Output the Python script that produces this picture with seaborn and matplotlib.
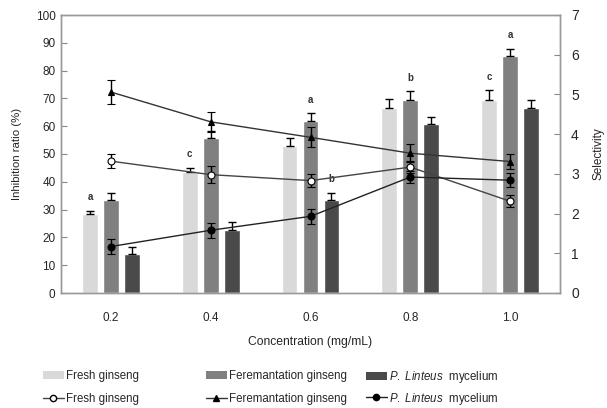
import numpy as np
import pandas as pd
import seaborn as sns
import matplotlib.pyplot as plt
from matplotlib.patches import Patch
from matplotlib.lines import Line2D

# data
conc = ["0.2", "0.4", "0.6", "0.8", "1.0"]
groups = ["Fresh ginseng", "Feremantation ginseng", "P. Linteus mycelium"]

inhib_fresh = [28.4, 43.4, 52.9, 66.7, 69.4]
inhib_ferm = [33.3, 55.9, 61.8, 69.4, 85.3]
inhib_pl = [14.0, 22.5, 33.6, 60.7, 66.7]
inhib_err_fresh = [1.2, 1.7, 2.7, 3.1, 3.5]
inhib_err_ferm = [2.8, 2.5, 2.8, 3.1, 2.6]
inhib_err_pl = [2.7, 2.9, 2.5, 2.7, 2.7]

sel_fresh = [3.32, 2.98, 2.83, 3.17, 2.31]
sel_ferm = [5.06, 4.31, 3.92, 3.52, 3.31]
sel_pl = [1.17, 1.58, 1.93, 2.92, 2.84]
sel_err_fresh = [0.18, 0.21, 0.17, 0.15, 0.15]
sel_err_ferm = [0.30, 0.25, 0.25, 0.22, 0.18]
sel_err_pl = [0.19, 0.19, 0.19, 0.16, 0.18]

# significance letters: (group index, concentration index, letter)
letters = [(0, 0, "a"), (0, 1, "c"), (1, 2, "a"), (2, 2, "b"),
           (1, 3, "b"), (0, 4, "c"), (1, 4, "a")]

bar_colors = ["#d9d9d9", "#808080", "#4a4a4a"]

sns.set_style("white")
plt.rcParams['font.family'] = ['Liberation Sans', 'DejaVu Sans']
plt.rcParams['mathtext.fontset'] = 'custom'
plt.rcParams['mathtext.it'] = 'Liberation Sans:italic'
plt.rcParams['mathtext.rm'] = 'Liberation Sans'

df = pd.DataFrame({
    "conc": conc * 3,
    "group": [g for g in groups for _ in conc],
    "inhib": inhib_fresh + inhib_ferm + inhib_pl,
})

fig = plt.figure(figsize=(6.07, 4.08), dpi=100)
ax = fig.add_axes([61 / 607, 1 - 293 / 408, 499 / 607, 278 / 408])

sns.barplot(data=df, x="conc", y="inhib", hue="group", order=conc,
            hue_order=groups, palette=bar_colors, width=0.63, gap=0.25,
            errorbar=None, saturation=1, legend=False, ax=ax)

bar_conts = list(ax.containers)
errs = [inhib_err_fresh, inhib_err_ferm, inhib_err_pl]
for gi, cont in enumerate(bar_conts):
    xs = [p.get_x() + p.get_width() / 2 for p in cont.patches]
    hs = [p.get_height() for p in cont.patches]
    ax.errorbar(xs, hs, yerr=[np.zeros(len(hs)), errs[gi]], fmt="none",
                ecolor="black", elinewidth=1, capsize=3, capthick=1, zorder=3)

for gi, ci, lab in letters:
    p = bar_conts[gi].patches[ci]
    top = p.get_height() + errs[gi][ci]
    ax.text(p.get_x() + p.get_width() / 2, top + 3, lab, ha="center",
            va="bottom", fontsize=7, fontweight="bold", color="#333333")

ax.set_ylim(0, 100)
ax.set_xlim(-0.5, 4.5)
ax.set_yticks(range(0, 101, 10))
ax.set_xlabel("Concentration (mg/mL)", fontsize=8.7, labelpad=8)
ax.set_ylabel("Inhibition ratio (%)", fontsize=8.2, labelpad=10)
ax.tick_params(axis="y", direction="in", length=4, width=0.8,
               color="#888888", labelsize=8.5, pad=4)
ax.tick_params(axis="x", length=0, labelsize=8.5, pad=14)

ax2 = ax.twinx()
xpos = np.arange(len(conc))
line_specs = [
    (sel_fresh, sel_err_fresh, "o", "white", "#444444"),
    (sel_ferm, sel_err_ferm, "^", "black", "#333333"),
    (sel_pl, sel_err_pl, "o", "black", "#222222"),
]
for vals, err, mk, mfc, lc in line_specs:
    ax2.errorbar(xpos, vals, yerr=err, color=lc, lw=1, marker=mk,
                 markersize=5, mfc=mfc, mec="black", mew=0.8,
                 ecolor="black", elinewidth=1, capsize=3, capthick=1)
ax2.set_ylim(0, 7)
ax2.set_yticks(range(0, 8))
ax2.set_ylabel("Selectivity", fontsize=8.5, labelpad=10)
ax2.tick_params(axis="y", direction="in", length=4, width=0.8,
                color="#888888", labelsize=10, pad=8)

for a in (ax, ax2):
    for s in a.spines.values():
        s.set_color("#999999")
        s.set_linewidth(1)

names = ["Fresh ginseng", "Feremantation ginseng",
         r"$\it{P.\ Linteus}$  mycelium"]
line_handles = [
    Line2D([], [], color="#444444", lw=1, marker="o", mfc="white", mec="black", markersize=4.5),
    Line2D([], [], color="#333333", lw=1, marker="^", mfc="black", mec="black", markersize=4.5),
    Line2D([], [], color="#222222", lw=1, marker="o", mfc="black", mec="black", markersize=4.5),
]
col_x = [37, 200, 360]
spacing = [0.95, 0.95, 0.5]
tops = [364, 364, 363]
for i in range(3):
    h = [Patch(facecolor=bar_colors[i], edgecolor="none"), line_handles[i]]
    fig.legend(h, [names[i], names[i]], loc="upper left",
               bbox_to_anchor=(col_x[i] / 607, 1 - tops[i] / 408), frameon=False,
               fontsize=8.3, handlelength=1.8, handleheight=0.7,
               handletextpad=0.2, labelspacing=spacing[i], borderpad=0)

fig.savefig("out.png", dpi=100)
